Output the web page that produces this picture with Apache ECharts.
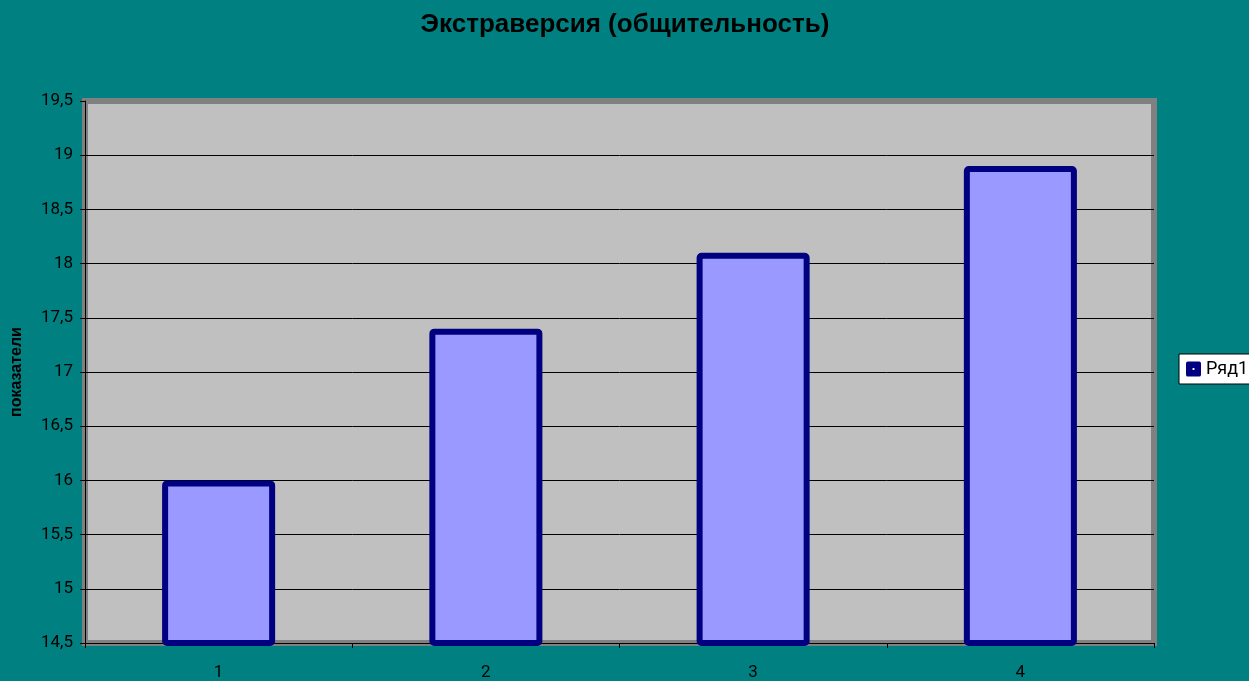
<!DOCTYPE html>
<html>
<head>
<meta charset="utf-8">
<script src="https://cdn.jsdelivr.net/npm/echarts@6/dist/echarts.min.js"></script>
<style>
    html, body { margin: 0; padding: 0; background: #008080; }
    #chart { width: 1249px; height: 681px; }
</style>
</head>
<body>
<div id="chart"></div>
<script>
// Chart data
const categories = ['1', '2', '3', '4'];
const seriesName = 'Ряд1';
const values = [16.0, 17.4, 18.1, 18.9];
const yMin = 14.5;
const yMax = 19.5;
const yStep = 0.5;

const chart = echarts.init(document.getElementById('chart'));

// rounded square with a small hole in the middle, like the old Excel legend key
const legendIcon = 'path://M2,0 H14 Q16,0 16,2 V14 Q16,16 14,16 H2 Q0,16 0,14 V2 Q0,0 2,0 Z M7,7 V9 H9 V7 Z';

const option = {
    backgroundColor: '#008080',
    animation: false,
    title: {
        text: 'Экстраверсия (общительность)',
        left: 620,
        textAlign: 'center',
        top: 7,
        textStyle: {
            color: '#000',
            fontFamily: 'Liberation Sans',
            fontSize: 26,
            fontWeight: 'bold'
        }
    },
    legend: {
        data: [seriesName],
        left: 1179,
        top: 354,
        padding: [6, 20, 6, 7],
        backgroundColor: '#fff',
        borderColor: '#000',
        borderWidth: 1,
        borderRadius: 0,
        itemWidth: 15,
        itemHeight: 15,
        itemGap: 4,
        icon: legendIcon,
        itemStyle: { color: '#000080', borderWidth: 0 },
        textStyle: {
            color: '#000',
            fontFamily: 'Roboto',
            fontSize: 18,
            padding: [3, 0, 0, 0]
        }
    },
    grid: {
        left: 85,
        right: 95,
        top: 101,
        bottom: 38,
        show: true,
        backgroundColor: '#c0c0c0',
        borderColor: '#808080',
        borderWidth: 6
    },
    xAxis: {
        type: 'category',
        data: categories,
        axisLine: { show: true, lineStyle: { color: '#000', width: 1 } },
        axisTick: { show: true, length: 5, lineStyle: { color: '#000' } },
        axisLabel: {
            margin: 21,
            color: '#000',
            fontFamily: 'Roboto',
            fontSize: 17
        }
    },
    yAxis: {
        type: 'value',
        min: yMin,
        max: yMax,
        interval: yStep,
        name: 'показатели',
        nameLocation: 'middle',
        nameGap: 60,
        nameRotate: 90,
        nameTextStyle: {
            color: '#000',
            fontFamily: 'Liberation Sans',
            fontSize: 16,
            fontWeight: 'bold'
        },
        axisLine: { show: true, lineStyle: { color: '#000', width: 1 } },
        axisTick: { show: true, length: 5, lineStyle: { color: '#000' } },
        axisLabel: {
            margin: 12,
            color: '#000',
            fontFamily: 'Roboto',
            fontSize: 17,
            padding: [6, 0, 0, 0],
            formatter: v => String(+v.toFixed(1)).replace('.', ',')
        },
        splitLine: {
            show: true,
            showMaxLine: false,
            showMinLine: false,
            lineStyle: { color: '#000', width: 1 }
        }
    },
    series: [{
        name: seriesName,
        type: 'bar',
        data: values,
        barWidth: '42.3%',
        itemStyle: {
            color: '#9999ff',
            borderColor: '#000080',
            borderWidth: 6,
            borderRadius: 2
        }
    }]
};

chart.setOption(option);
</script>
</body>
</html>
